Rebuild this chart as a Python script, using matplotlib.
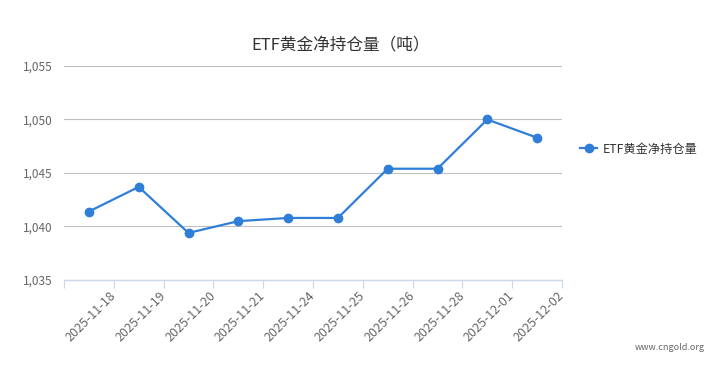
import matplotlib
matplotlib.use("Agg")
import matplotlib.pyplot as plt

plt.rcParams['font.family'] = ['Noto Sans CJK SC', 'DejaVu Sans']

dates = ["2025-11-18", "2025-11-19", "2025-11-20", "2025-11-21", "2025-11-24",
         "2025-11-25", "2025-11-26", "2025-11-28", "2025-12-01", "2025-12-02"]
holdings = [1041.4, 1043.7, 1039.4, 1040.5, 1040.8,
            1040.8, 1045.4, 1045.4, 1050.0, 1048.3]
yticks = [1035, 1040, 1045, 1050, 1055]
series_name = "ETF黄金净持仓量"
title = "ETF黄金净持仓量（吨）"

fig = plt.figure(figsize=(7.2, 3.66), dpi=100)
ax = fig.add_axes([64 / 720, 1 - 280 / 366, (562 - 64) / 720, (280 - 66) / 366])

x = list(range(len(dates)))
line, = ax.plot(x, holdings, color="#2f7ed8", lw=1.6, marker="o", ms=6,
                label=series_name, zorder=3, clip_on=False)

ax.set_xlim(-0.5, len(dates) - 0.5)
ax.set_ylim(yticks[0], yticks[-1])
ax.set_yticks(yticks)
ax.set_yticklabels([f"{v:,}" for v in yticks], color="#666666", fontsize=8.5)
ax.grid(axis="y", color="#c0c0c0", lw=0.8)
ax.set_axisbelow(True)

# category labels sit at the right edge of each band
ax.set_xticks([i - 0.5 for i in range(len(dates) + 1)])
ax.set_xticklabels([""] + dates, rotation=45, ha="right", va="center",
                   rotation_mode="anchor", color="#666666", fontsize=9)
ax.tick_params(axis="x", length=6, color="#ccd6eb", pad=4)
ax.tick_params(axis="y", length=0, pad=8)

for s in ["top", "right", "left"]:
    ax.spines[s].set_visible(False)
ax.spines["bottom"].set_color("#ccd6eb")
ax.spines["bottom"].set_linewidth(1)

fig.text(341 / 720, 1 - 46 / 366, title, ha="center", va="center",
         fontsize=12, color="#333333")

fig.legend(handles=[line], loc="center left", bbox_to_anchor=(569 / 720, 1 - 149 / 366),
           frameon=False, fontsize=8.8, handlelength=1.4, handletextpad=0.5,
           labelcolor="#333333")

fig.text(705 / 720, 1 - 348 / 366, "www.cngold.org", ha="right", va="center",
         fontsize=6.5, color="#666666")

fig.savefig("out.png", dpi=100)
